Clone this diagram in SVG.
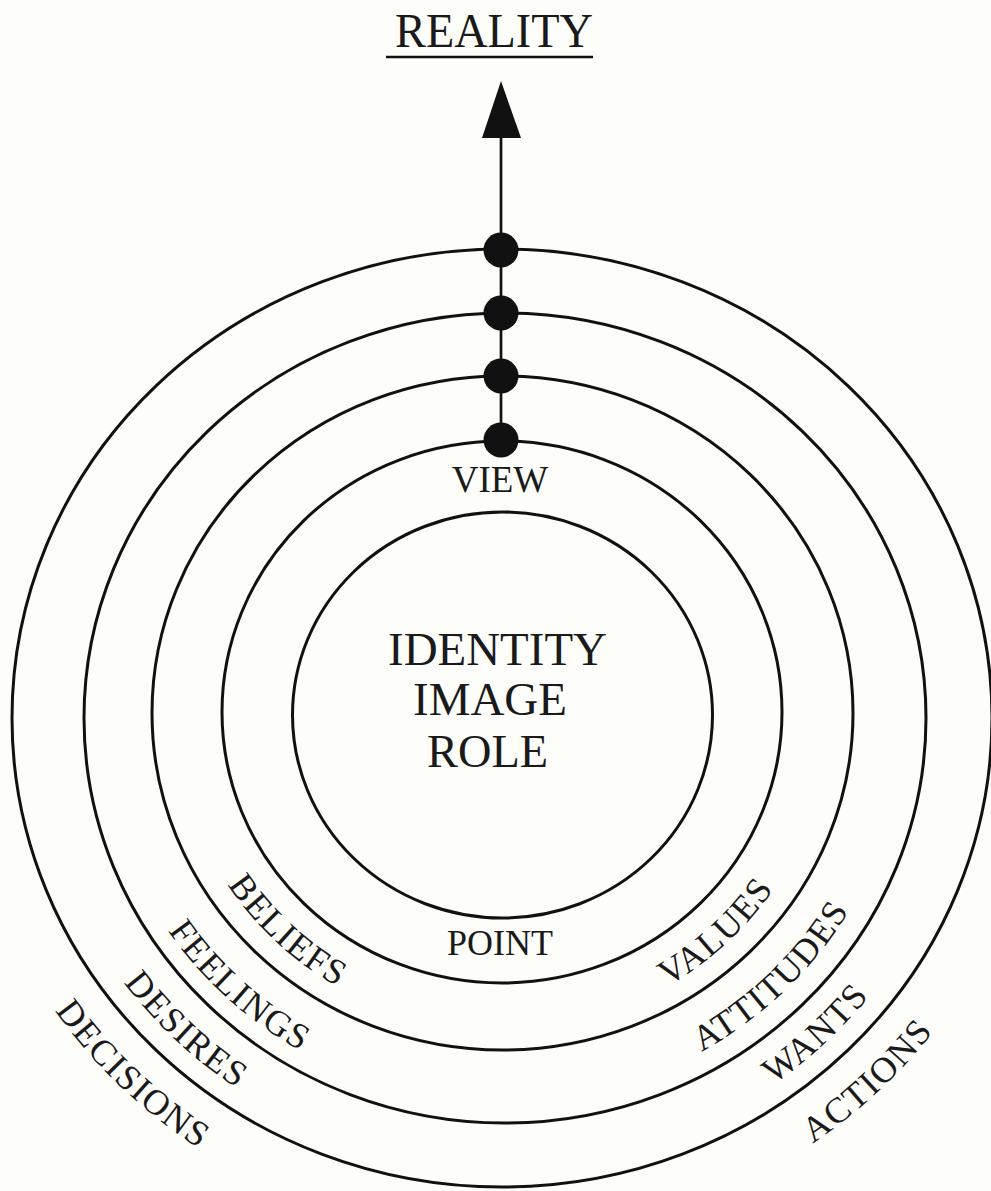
<svg xmlns="http://www.w3.org/2000/svg" width="991" height="1191" viewBox="0 0 991 1191">
<style>
.ring{fill:none;stroke:#111;stroke-width:3}
.dot{fill:#111}
.t{font-family:"Liberation Serif","Times New Roman",serif;fill:#1a1a1a}
.lbl{font-size:36px;letter-spacing:1.5px}
.conn{stroke:#111;stroke-width:2.7;fill:none}
</style>
<defs>
<path id="pBeliefs" d="M176.0,719.4 A326,314.6 0 0 0 506.6,1029.6"/>
<path id="pFeelings" d="M100.1,725.2 A402,387.9 0 0 0 512.5,1102.8"/>
<path id="pDesires" d="M33.0,719.0 A469,452.6 0 0 0 506.1,1167.6"/>
<path id="pDecisions" d="M-40.0,713.2 A542,523 0 0 0 500.1,1238.0"/>
<path id="pValues" d="M496.3,1029.6 A326,314.6 0 0 0 828.0,720.5"/>
<path id="pAttitudes" d="M503.8,1102.9 A402,387.9 0 0 0 904.0,713.3"/>
<path id="pWants" d="M493.8,1167.5 A469,452.6 0 0 0 970.9,722.9"/>
<path id="pActions" d="M496.3,1238.0 A542,523 0 0 0 1044.0,720.5"/>
</defs>
<rect width="991" height="1191" fill="#fdfdfa"/>

<g id="title">
<text class="t" x="395" y="47" font-size="48" textLength="198" lengthAdjust="spacingAndGlyphs">REALITY</text>
<line x1="386" y1="57" x2="593" y2="57" stroke="#111" stroke-width="2.5"/>
</g>

<g id="rings">
<ellipse id="ring-outer" class="ring" cx="502" cy="718" rx="490" ry="469"/>
<ellipse id="ring-2" class="ring" cx="505" cy="718" rx="421" ry="405"/>
<ellipse id="ring-3" class="ring" cx="502.5" cy="713" rx="350.5" ry="337"/>
<ellipse id="ring-4" class="ring" cx="502" cy="712" rx="280" ry="271"/>
<ellipse id="ring-inner" class="ring" cx="502.5" cy="715" rx="210" ry="203"/>
</g>

<g id="connectors">
<line class="conn" x1="501" y1="130" x2="501" y2="440"/>
<polygon points="501,81 521,138 482,138" fill="#111"/>
</g>

<g id="dots">
<circle class="dot" cx="501" cy="250" r="17.5"/>
<circle class="dot" cx="501" cy="313" r="17.5"/>
<circle class="dot" cx="501" cy="376" r="17.5"/>
<circle class="dot" cx="501" cy="440" r="17.5"/>
</g>

<g id="core">
<text class="t" x="388" y="665" font-size="47" textLength="219" lengthAdjust="spacingAndGlyphs">IDENTITY</text>
<text class="t" x="413" y="715" font-size="47" textLength="154" lengthAdjust="spacingAndGlyphs">IMAGE</text>
<text class="t" x="427" y="767" font-size="47" textLength="121" lengthAdjust="spacingAndGlyphs">ROLE</text>
</g>

<g id="ring1-labels">
<text class="t" x="500" y="492" font-size="37" text-anchor="middle">VIEW</text>
<text class="t" x="500" y="955" font-size="36" text-anchor="middle">POINT</text>
</g>

<g id="curved-labels">
<text class="t lbl"><textPath href="#pBeliefs" startOffset="50%" text-anchor="middle">BELIEFS</textPath></text>
<text class="t lbl"><textPath href="#pFeelings" startOffset="50%" text-anchor="middle">FEELINGS</textPath></text>
<text class="t lbl"><textPath href="#pDesires" startOffset="50%" text-anchor="middle">DESIRES</textPath></text>
<text class="t lbl"><textPath href="#pDecisions" startOffset="50%" text-anchor="middle">DECISIONS</textPath></text>
<text class="t lbl"><textPath href="#pValues" startOffset="50%" text-anchor="middle">VALUES</textPath></text>
<text class="t lbl"><textPath href="#pAttitudes" startOffset="50%" text-anchor="middle">ATTITUDES</textPath></text>
<text class="t lbl"><textPath href="#pWants" startOffset="50%" text-anchor="middle">WANTS</textPath></text>
<text class="t lbl"><textPath href="#pActions" startOffset="50%" text-anchor="middle">ACTIONS</textPath></text>
</g>
</svg>
